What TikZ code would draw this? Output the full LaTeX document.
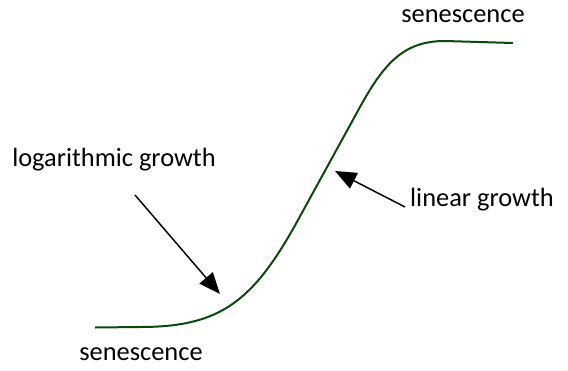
\documentclass[tikz,border=0pt]{standalone}
\usepackage{fontspec}
\setmainfont{Carlito}
\usetikzlibrary{arrows.meta}
\definecolor{curvegreen}{HTML}{0B4A0B}

\begin{document}
\begin{tikzpicture}[x=0.75pt,y=-0.75pt,
  lbl/.style={font=\fontsize{19.8}{23}\selectfont,inner sep=0pt},
  pointer/.style={line width=1.1pt,-{Triangle[length=16pt,width=13pt]}}]
  \useasboundingbox (0,0) rectangle (568,371);
  % growth curve
  \draw[curvegreen,line width=1.5pt] (95,327.5) -- (140,327)
    .. controls (220,327) and (253,302) .. (298,220) -- (360,107)
    .. controls (385,61.5) and (405,41) .. (445,41) -- (513,43);
  % labels
  \node[lbl] (topsen) at (463,16) {senescence};
  \node[lbl] (botsen) at (141,354) {senescence};
  \node[lbl] (loggrowth) at (114,160) {logarithmic growth};
  \node[lbl] (lingrowth) at (482,200) {linear growth};
  \coordinate (logtail) at (135,195);
  \coordinate (logtip) at (220,294);
  \coordinate (lintail) at (405,207);
  \coordinate (lintip) at (335,171);
  \draw[pointer] (logtail) -- (logtip);
  \draw[pointer] (lintail) -- (lintip);
\end{tikzpicture}
\end{document}
